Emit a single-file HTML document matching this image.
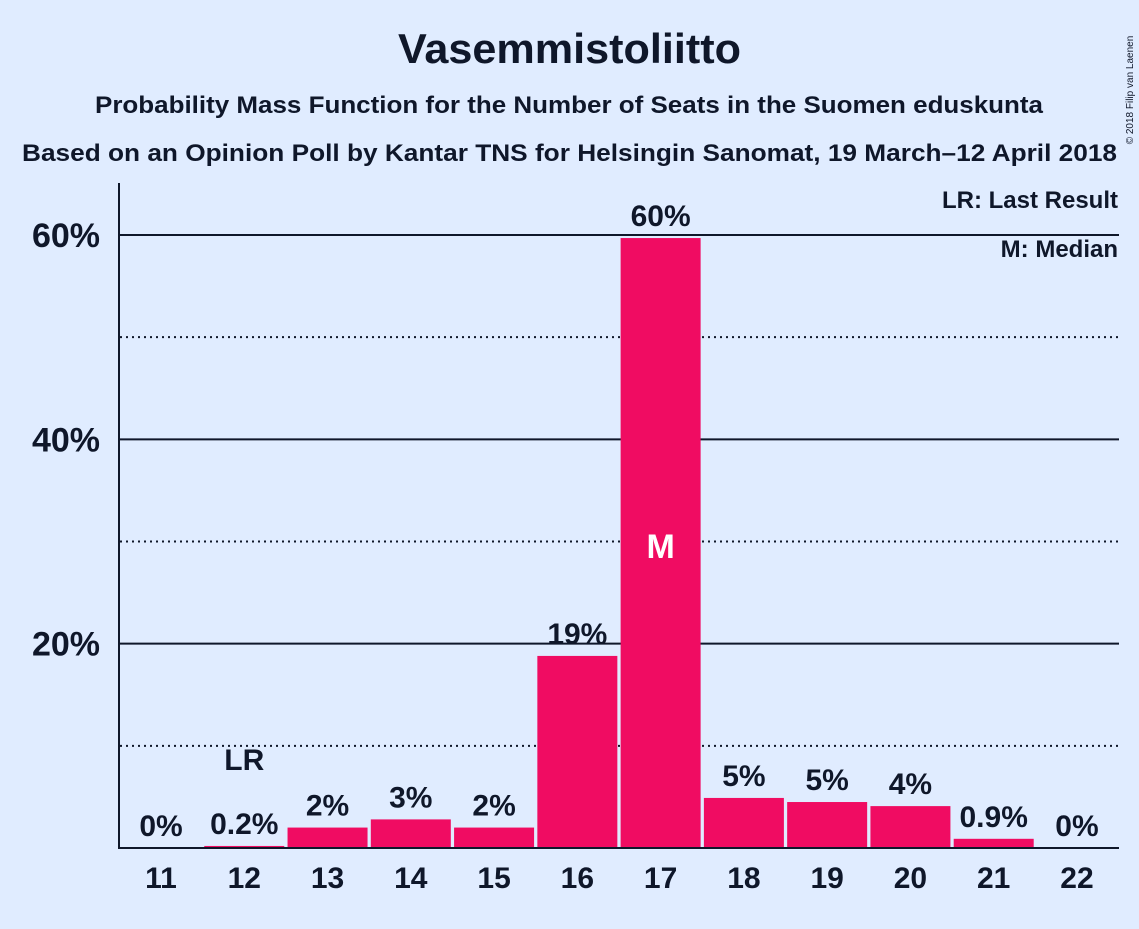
<!DOCTYPE html>
<html><head><meta charset="utf-8"><style>
body{margin:0;background:#e0ecff;}
svg text{font-family:"Liberation Sans",sans-serif;fill:#0f172a;}
</style></head><body>
<svg width="1139" height="924" xmlns="http://www.w3.org/2000/svg">
<rect width="1139" height="924" fill="#e0ecff"/>
<text x="398" y="63" textLength="343" lengthAdjust="spacingAndGlyphs" font-size="42" font-weight="bold">Vasemmistoliitto</text>
<text x="95" y="113" textLength="948" lengthAdjust="spacingAndGlyphs" font-size="24" font-weight="bold">Probability Mass Function for the Number of Seats in the Suomen eduskunta</text>
<text x="22" y="161" textLength="1095" lengthAdjust="spacingAndGlyphs" font-size="24" font-weight="bold">Based on an Opinion Poll by Kantar TNS for Helsingin Sanomat, 19 March–12 April 2018</text>
<text x="1133" y="90" font-size="10" transform="rotate(-90 1133 90)" text-anchor="middle">© 2018 Filip van Laenen</text>
<g id="grid"></g>
<g id="bars"></g>
<line x1="119" y1="183" x2="119" y2="849" stroke="#0f172a" stroke-width="2"/>
<line x1="118" y1="848" x2="1119" y2="848" stroke="#0f172a" stroke-width="2"/>
<text x="1118" y="208" text-anchor="end" font-size="24" font-weight="bold">LR: Last Result</text>
<text x="1118" y="257" text-anchor="end" font-size="24" font-weight="bold">M: Median</text>
</svg>
<script>
const categories=[11,12,13,14,15,16,17,18,19,20,21,22];
const values=[0,0.2,2,2.8,2,18.8,59.7,4.9,4.5,4.1,0.9,0];
const valueLabels=["0%","0.2%","2%","3%","2%","19%","60%","5%","5%","4%","0.9%","0%"];
const yTicks=[10,20,30,40,50,60];
const yTickLabels=["","20%","","40%","","60%"];
const lastResult=12, median=17;
const NS="http://www.w3.org/2000/svg";
const y=v=>848-v*10.217;
const x=i=>161+i*83.27;
function mk(t,a,p){const e=document.createElementNS(NS,t);for(const k in a)e.setAttribute(k,a[k]);p.appendChild(e);return e;}
const g=document.getElementById('grid'),b=document.getElementById('bars');
yTicks.forEach((t,i)=>{
 const solid=t%20===0;
 const l=mk('line',{x1:120,x2:1119,y1:y(t),y2:y(t),stroke:'#0f172a','stroke-width':2,'stroke-dasharray':solid?'':'2,4'},g);
 
 
 if(yTickLabels[i]){const tx=mk('text',{x:100,y:y(t)+12,'text-anchor':'end','font-size':34,'font-weight':'bold'},g);tx.textContent=yTickLabels[i];
 
 }
});
categories.forEach((c,i)=>{
 const v=values[i];
 if(v>0){const r=mk('rect',{x:x(i)-40,y:y(v),width:80,height:848-y(v),fill:'#f00c62'},b);
 
 }
 const lb=mk('text',{x:x(i),y:y(v)-12,'text-anchor':'middle','font-size':30,'font-weight':'bold'},b);lb.textContent=valueLabels[i];
 
 
 const xt=mk('text',{x:x(i),y:888,'text-anchor':'middle','font-size':30,'font-weight':'bold'},b);xt.textContent=c;
 
 
 if(c===lastResult){const t=mk('text',{x:x(i),y:y(v)-76,'text-anchor':'middle','font-size':30,'font-weight':'bold'},b);t.textContent='LR';
 
 }
 if(c===median){const t=mk('text',{x:x(i),y:y(v/2)+15,'text-anchor':'middle','font-size':34,'font-weight':'bold',style:'fill:#fff'},b);t.textContent='M';
 
 }
});
</script>
</body></html>
